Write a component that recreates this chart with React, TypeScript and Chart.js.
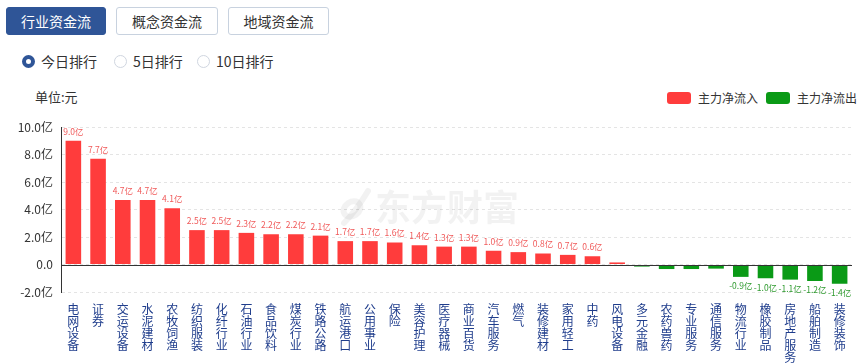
import React, { useEffect, useRef } from "react";
import { Chart, registerables } from "chart.js";

Chart.register(...registerables);

const categories: string[] = [
  "电网设备", "证券", "交运设备", "水泥建材", "农牧饲渔", "纺织服装", "化纤行业", "石油行业",
  "食品饮料", "煤炭行业", "铁路公路", "航运港口", "公用事业", "保险", "美容护理", "医疗器械",
  "商业百货", "汽车服务", "燃气", "装修建材", "家用轻工", "中药", "风电设备", "多元金融",
  "农药兽药", "专业服务", "通信服务", "物流行业", "橡胶制品", "房地产服务", "船舶制造", "装修装饰",
];

// 主力净流入 (亿元)
const netFlow: number[] = [
  9.0, 7.7, 4.7, 4.7, 4.1, 2.5, 2.5, 2.3, 2.2, 2.2, 2.1, 1.7, 1.7, 1.6, 1.4, 1.3,
  1.3, 1.0, 0.9, 0.8, 0.7, 0.6, 0.15, -0.15, -0.33, -0.33, -0.3, -0.9, -1.0, -1.1, -1.2, -1.4,
];

const yTicks: number[] = [10, 8, 6, 4, 2, 0, -2];

const tabs: string[] = ["行业资金流", "概念资金流", "地域资金流"];
const ranks: string[] = ["今日排行", "5日排行", "10日排行"];
const legendItems: string[] = ["主力净流入", "主力净流出"];

const RED = "#ff3c3c";
const GREEN = "#0a9a16";
const FONT = "'Noto Sans CJK SC', 'Noto Sans', sans-serif";

const labelPlugin = {
  id: "valueLabels",
  beforeDatasetsDraw(chart: any) {
    const { ctx } = chart;
    ctx.save();
    ctx.fillStyle = "rgba(0,0,0,0.05)";
    ctx.strokeStyle = "rgba(0,0,0,0.05)";
    ctx.font = `bold 36px ${FONT}`;
    ctx.textAlign = "left";
    ctx.textBaseline = "middle";
    ctx.fillText("东方财富", 375, 122);
    ctx.lineWidth = 6;
    ctx.lineCap = "round";
    ctx.beginPath();
    ctx.ellipse(352, 124, 9, 7, -0.6, 0, Math.PI * 2);
    ctx.stroke();
    ctx.beginPath();
    ctx.moveTo(368, 106);
    ctx.quadraticCurveTo(356, 126, 344, 138);
    ctx.stroke();
    ctx.restore();
  },
  afterDatasetsDraw(chart: any) {
    const { ctx } = chart;
    const meta = chart.getDatasetMeta(0);
    const y = chart.scales.y;
    const x = chart.scales.x;
    ctx.save();
    const zy = Math.round(y.getPixelForValue(0)) + 0.5;
    ctx.strokeStyle = "#333";
    ctx.lineWidth = 1;
    ctx.beginPath();
    ctx.moveTo(x.left, zy);
    ctx.lineTo(x.right, zy);
    ctx.stroke();
    ctx.font = `8.5px ${FONT}`;
    ctx.textAlign = "center";
    meta.data.forEach((bar: any, i: number) => {
      const v = netFlow[i];
      if (Math.abs(v) < 0.5) return;
      const text = v.toFixed(1) + "亿";
      if (v >= 0) {
        ctx.fillStyle = "#f05a5a";
        ctx.textBaseline = "bottom";
        ctx.fillText(text, bar.x, bar.y - 5);
      } else {
        ctx.fillStyle = "#2f9a2f";
        ctx.textBaseline = "top";
        ctx.fillText(text, bar.x, bar.y + 5);
      }
    });
    ctx.restore();
  },
};

function ChartView() {
  const ref = useRef<HTMLCanvasElement | null>(null);
  useEffect(() => {
    if (!ref.current) return;
    const chart = new Chart(ref.current, {
      type: "bar",
      data: {
        labels: categories.map((c) => c.split("")),
        datasets: [
          {
            label: "主力净流",
            data: netFlow,
            backgroundColor: netFlow.map((v) => (v >= 0 ? RED : GREEN)),
            barPercentage: 0.63,
            categoryPercentage: 1,
          },
        ],
      },
      options: {
        animation: false,
        responsive: false,
        devicePixelRatio: 1,
        layout: { padding: { top: 42, right: 16, left: 0, bottom: 0 } },
        plugins: { legend: { display: false }, tooltip: { enabled: false } },
        scales: {
          x: {
            grid: { display: false, drawTicks: false, tickLength: 0 },
            border: { display: false },
            afterFit: (s: any) => {
              s.height = 72;
            },
            ticks: {
              autoSkip: false,
              maxRotation: 0,
              minRotation: 0,
              padding: 12,
              color: "#1f3d8c",
              font: { family: FONT, size: 12, lineHeight: "11.8px" },
            },
          },
          y: {
            min: -2,
            max: 10,
            afterFit: (s: any) => {
              s.width = 61;
            },
            afterBuildTicks: (s: any) => {
              s.ticks = yTicks.map((v) => ({ value: v }));
            },
            grid: { color: "#e4e4e4", drawTicks: false },
            border: { display: true, color: "#333", dash: [3, 3] },
            ticks: {
              padding: 8,
              color: "#333",
              font: { family: FONT, size: 12 },
              callback: (v: any) => (Number(v) === 0 ? "0.0" : Number(v).toFixed(1) + "亿"),
            },
          },
        },
      },
      plugins: [labelPlugin],
    } as any);
    return () => chart.destroy();
  }, []);
  return <canvas ref={ref} width={868} height={279} style={{ display: "block" }} />;
}

export default function App() {
  return (
    <div
      style={{
        position: "fixed",
        left: 0,
        top: 0,
        width: 868,
        height: 364,
        background: "#fff",
        fontFamily: FONT,
        overflow: "hidden",
      }}
    >
      {tabs.map((t, i) => (
        <div
          key={t}
          style={{
            position: "absolute",
            left: [6, 116, 228][i],
            top: 7,
            width: [100, 102, 101][i],
            height: 28,
            boxSizing: "border-box",
            border: i === 0 ? "1px solid #2f5597" : "1px solid #c8d2df",
            borderRadius: 3,
            background: i === 0 ? "#2f5597" : "#fff",
            color: i === 0 ? "#fff" : "#333",
            fontSize: 14,
            lineHeight: "26px",
            textAlign: "center",
          }}
        >
          {t}
        </div>
      ))}
      {ranks.map((r, i) => (
        <div
          key={r}
          style={{
            position: "absolute",
            left: [22, 114, 197][i],
            top: 52,
            height: 18,
            display: "flex",
            alignItems: "center",
            fontSize: 14,
            color: "#333",
          }}
        >
          <span
            style={{
              display: "inline-block",
              width: 13,
              height: 13,
              boxSizing: "border-box",
              borderRadius: "50%",
              border: i === 0 ? "4px solid #2f5597" : "1px solid #d0d6e0",
              background: "#fff",
              marginRight: 6,
            }}
          />
          {r}
        </div>
      ))}
      <div style={{ position: "absolute", left: 35, top: 88, fontSize: 13, color: "#333", lineHeight: "18px" }}>
        单位:元
      </div>
      {legendItems.map((l, i) => (
        <div
          key={l}
          style={{
            position: "absolute",
            left: [667, 766][i],
            top: 89,
            height: 17,
            display: "flex",
            alignItems: "center",
            fontSize: 12,
            color: "#333",
          }}
        >
          <span
            style={{
              display: "inline-block",
              width: 24,
              height: 12,
              borderRadius: 3,
              background: i === 0 ? RED : GREEN,
              marginRight: 7,
            }}
          />
          {l}
        </div>
      ))}
      <div style={{ position: "absolute", left: 0, top: 85 }}>
        <ChartView />
      </div>
    </div>
  );
}
